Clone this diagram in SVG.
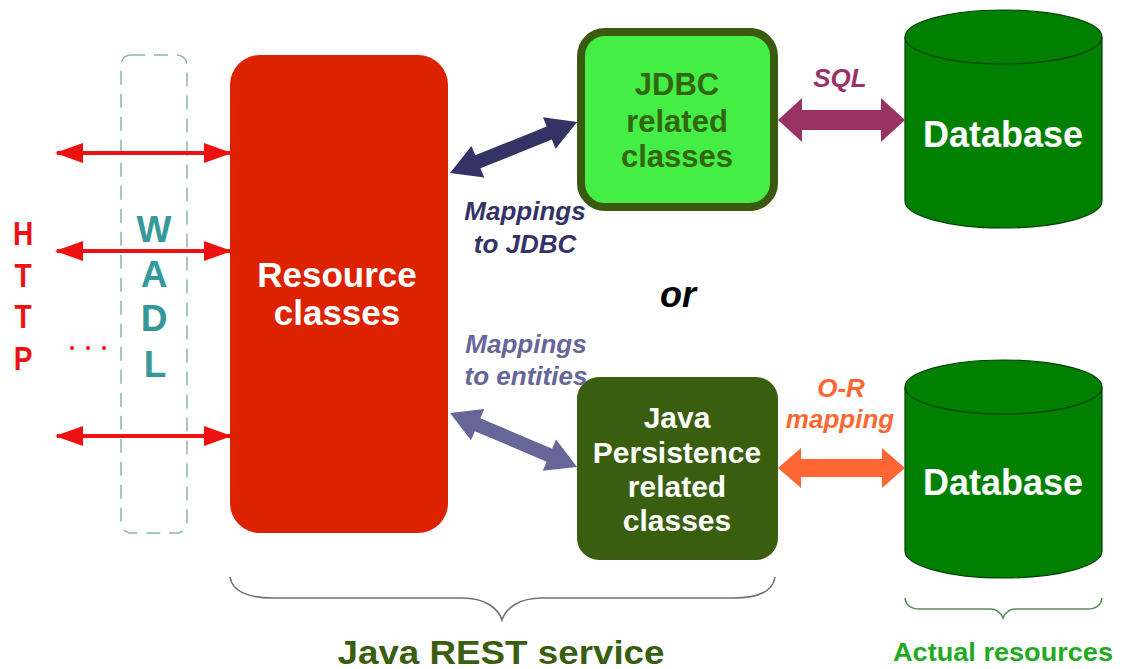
<svg xmlns="http://www.w3.org/2000/svg" width="1125" height="669" viewBox="0 0 1125 669">
  <style>
    text { font-family: "Liberation Sans", Arial, sans-serif; font-weight: bold; }
    .http { fill: #ee1111; font-size: 33px; text-anchor: middle; }
    .wadl { fill: #339999; font-size: 37px; text-anchor: middle; }
    .res { fill: #ffffff; font-size: 35px; text-anchor: middle; }
    .jdbc { fill: #336611; font-size: 31px; text-anchor: middle; }
    .jpa { fill: #ffffff; font-size: 30px; text-anchor: middle; }
    .db { fill: #ffffff; font-size: 36px; text-anchor: middle; }
    .lbl { font-size: 26px; font-style: italic; text-anchor: middle; }
    .cyl { fill: #008000; stroke: #004000; stroke-width: 1.2; }
    .http-line { stroke: #ee1111; stroke-width: 4; fill: none; marker-start: url(#redHead); marker-end: url(#redHead); }
    .brace { fill: none; stroke-width: 1.6; }
  </style>
  <defs>
    <marker id="redHead" viewBox="0 0 28 20" refX="26" refY="10" markerWidth="28" markerHeight="20" markerUnits="userSpaceOnUse" orient="auto-start-reverse">
      <path d="M0,0 L28,10 L0,20 Z" fill="#ee1111"/>
    </marker>
  </defs>

  <!-- HTTP side -->
  <g id="http-label">
    <g transform="translate(23,0) scale(0.85,1)">
      <text class="http" x="0" y="245">H</text>
      <text class="http" x="0" y="287">T</text>
      <text class="http" x="0" y="328">T</text>
      <text class="http" x="0" y="370">P</text>
    </g>
    <g fill="#ee1111">
      <circle cx="72" cy="348" r="2"/>
      <circle cx="88" cy="348" r="2"/>
      <circle cx="104" cy="348" r="2"/>
    </g>
  </g>

  <!-- WADL dashed frame -->
  <g id="wadl">
    <rect x="121" y="55" width="66" height="478" rx="10" fill="none" stroke="#8ab5b5" stroke-width="1.5" stroke-dasharray="14 9"/>
    <text class="wadl" x="154" y="242">W</text>
    <text class="wadl" x="154" y="287">A</text>
    <text class="wadl" x="154" y="331">D</text>
    <text class="wadl" x="155" y="377">L</text>
  </g>

  <!-- Resource classes -->
  <g id="resource-classes">
    <rect x="230" y="55" width="218" height="478" rx="30" fill="#dd2200"/>
    <text class="res" x="337" y="287">Resource</text>
    <text class="res" x="337" y="325">classes</text>
  </g>

  <!-- JDBC related classes -->
  <g id="jdbc-classes">
    <rect x="581" y="32" width="193" height="175" rx="24" fill="#44ee44" stroke="#3a5a10" stroke-width="8"/>
    <text class="jdbc" x="677" y="95">JDBC</text>
    <text class="jdbc" x="677" y="132">related</text>
    <text class="jdbc" x="677" y="167">classes</text>
  </g>

  <!-- Java Persistence related classes -->
  <g id="jpa-classes">
    <rect x="577" y="377" width="201" height="183" rx="22" fill="#3a5e10"/>
    <text class="jpa" x="677" y="428">Java</text>
    <text class="jpa" x="677" y="463">Persistence</text>
    <text class="jpa" x="677" y="497">related</text>
    <text class="jpa" x="677" y="531">classes</text>
  </g>

  <!-- Databases -->
  <g id="database-top">
    <path class="cyl" d="M905,37 L905,201 A98.5,27 0 0 0 1102,201 L1102,37"/>
    <ellipse class="cyl" cx="1003.5" cy="37" rx="98.5" ry="27"/>
    <text class="db" x="1003" y="147">Database</text>
  </g>
  <g id="database-bottom">
    <path class="cyl" d="M905,387 L905,551 A98.5,27 0 0 0 1102,551 L1102,387"/>
    <ellipse class="cyl" cx="1003.5" cy="387" rx="98.5" ry="27"/>
    <text class="db" x="1003" y="495">Database</text>
  </g>

  <!-- Connectors -->
  <g id="connectors">
    <line class="http-line" x1="57" y1="153" x2="230" y2="153"/>
    <line class="http-line" x1="57" y1="251" x2="230" y2="251"/>
    <line class="http-line" x1="57" y1="436" x2="230" y2="436"/>

    <!-- Resource classes <-> JDBC -->
    <g transform="translate(450,173) rotate(-21.9)">
      <polygon fill="#333366" points="0,0 30,-17 30,-7 107,-7 107,-17 137,0 107,17 107,7 30,7 30,17"/>
    </g>
    <!-- Resource classes <-> Java Persistence -->
    <g transform="translate(450,413) rotate(23)">
      <polygon fill="#666699" points="0,0 30,-17 30,-7 108,-7 108,-17 138,0 108,17 108,7 30,7 30,17"/>
    </g>
    <!-- JDBC <-> Database (SQL) -->
    <polygon fill="#993366" points="778,120 802,98 802,110 881,110 881,98 905,120 881,142 881,130 802,130 802,142"/>
    <!-- Java Persistence <-> Database (O-R mapping) -->
    <polygon fill="#ff6633" points="778,468 801,448 801,459 882,459 882,448 905,468 882,488 882,477 801,477 801,488"/>
  </g>

  <!-- Connector labels -->
  <g id="labels">
    <text class="lbl" x="525" y="220" fill="#333366">Mappings</text>
    <text class="lbl" x="525" y="253" fill="#333366">to JDBC</text>
    <text class="lbl" x="526" y="353" fill="#666699">Mappings</text>
    <text class="lbl" x="526" y="385" fill="#666699">to entities</text>
    <text class="lbl" x="841" y="397" fill="#ff6633">O-R</text>
    <text class="lbl" x="840" y="428" fill="#ff6633">mapping</text>
    <text class="lbl" x="840" y="87" fill="#993366">SQL</text>
    <text x="678" y="307" font-size="36" font-style="italic" text-anchor="middle" fill="#000000">or</text>
  </g>

  <!-- Braces and captions -->
  <g id="java-rest-service">
    <path class="brace" stroke="#707070" d="M230,577 C232,592 250,598 273,598 L462,598 C485,598 498,608 502,620 C506,608 519,598 542,598 L733,598 C757,598 773,592 775,577"/>
    <text x="501" y="664" font-size="33" text-anchor="middle" fill="#3a5e10" textLength="327" lengthAdjust="spacingAndGlyphs">Java REST service</text>
  </g>
  <g id="actual-resources">
    <path class="brace" stroke="#5a8a5a" d="M905,598 C906,606 912,609 920,609 L990,609 C997,609 1001,613 1003,618 C1005,613 1009,609 1016,609 L1087,609 C1095,609 1101,606 1102,598"/>
    <text x="1003" y="661" font-size="25" text-anchor="middle" fill="#22aa22" textLength="220" lengthAdjust="spacingAndGlyphs">Actual resources</text>
  </g>
</svg>
